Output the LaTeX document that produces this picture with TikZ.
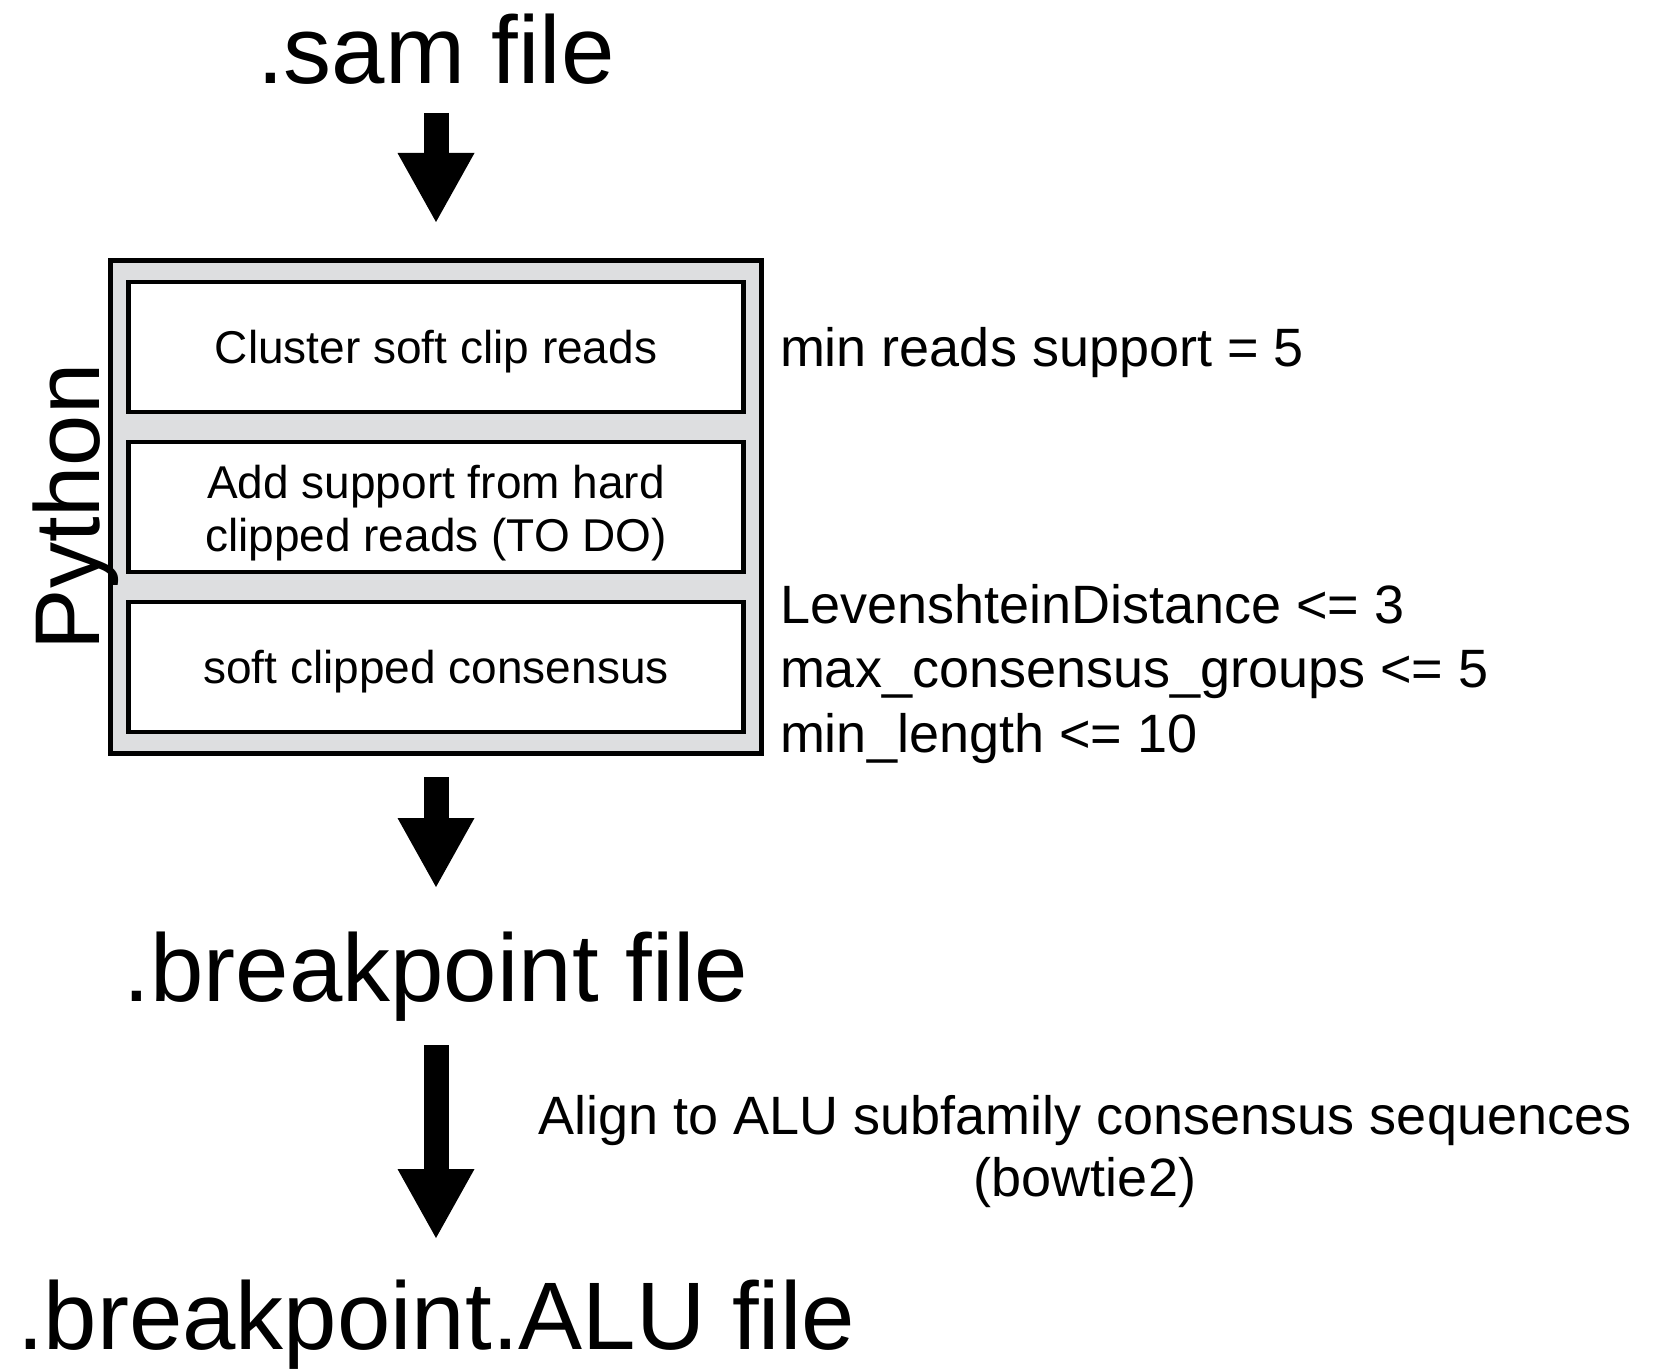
\documentclass[tikz,border=0pt]{standalone}
\usepackage{fontspec}
\setmainfont{Liberation Sans}
\usetikzlibrary{arrows.meta}
\definecolor{boxgray}{RGB}{221,222,224}
\tikzset{
  title/.style={font=\fontsize{48pt}{58pt}\selectfont, inner sep=0pt, outer sep=0pt, anchor=base},
  outerbox/.style={draw=black, fill=boxgray, line width=2.5pt, inner sep=0pt, outer sep=0pt},
  stepbox/.style={draw=black, fill=white, line width=2.25pt, minimum width=307.5pt, minimum height=65pt,
    inner sep=0pt, outer sep=0pt, font=\fontsize{23pt}{26.5pt}\selectfont},
  oneline/.style={text height=16.5pt, text depth=0pt},
  param/.style={font=\fontsize{27pt}{32pt}\selectfont, anchor=base west, inner sep=0pt, outer sep=0pt},
  bigarrow/.style={line width=12.5pt, -{Triangle[width=38.5pt,length=34.5pt,line width=0pt]}},
}
\begin{document}
\begin{tikzpicture}[x=0.5pt, y=-0.5pt]
\useasboundingbox (0,0) rectangle (1663,1369);

% titles
\node[title] (sam) at (436,84) {.sam file};
\node[title] (bp) at (436,1001) {.breakpoint file};
\node[title] (alu) at (436,1349) {.breakpoint.ALU file};

% python block
\node[outerbox, minimum width=325.5pt, minimum height=246.7pt] (outer) at (436,507) {};
\node[stepbox, oneline] (s1) at (436,347) {Cluster soft clip reads};
\node[stepbox, align=center] (s2) at (436,507) {\rule{0pt}{22.35pt}Add support from hard\\clipped reads (TO DO)};
\node[stepbox, oneline] (s3) at (436,667) {soft clipped consensus};
\node[font=\fontsize{46pt}{55pt}\selectfont, rotate=90, anchor=base, inner sep=0pt] (py) at (99,507) {Python};

% parameters
\node[param] (p1) at (780,366) {min reads support = 5};
\node[param] (p2) at (780,623) {LevenshteinDistance <= 3};
\node[param] (p3) at (780,687.5) {max\_consensus\_groups <= 5};
\node[param] (p4) at (780,752) {min\_length <= 10};

% align label
\node[font=\fontsize{27pt}{31pt}\selectfont, align=center, anchor=north, inner sep=0pt] (al) at (1085,1094.5)
  {Align to ALU subfamily consensus sequences\\(bowtie2)};

% arrows
\draw[bigarrow, shorten <=14.5pt, shorten >=19.15pt] (sam.base) -- (outer.north);
\draw[bigarrow, shorten <=11.65pt, shorten >=57pt] (outer.south) -- (bp.base);
\draw[bigarrow, shorten <=22pt, shorten >=55.5pt] (bp.base) -- (alu.base);
\end{tikzpicture}
\end{document}
